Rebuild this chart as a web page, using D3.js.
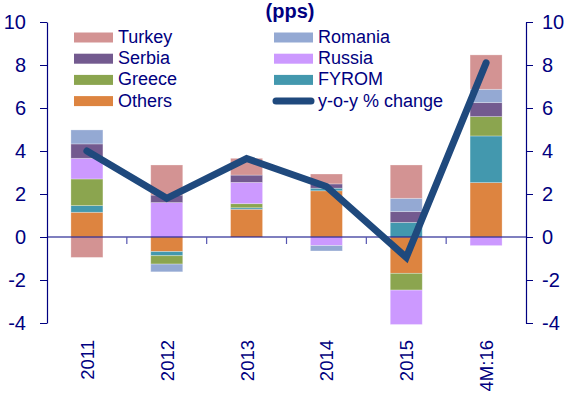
<!DOCTYPE html>
<html>
<head>
<meta charset="utf-8">
<script src="https://cdn.jsdelivr.net/npm/d3@7"></script>
<style>
  body { margin: 0; background: #fff; }
  svg { display: block; font-family: "Liberation Sans", Arial, sans-serif; }
</style>
</head>
<body>
<svg id="chart"></svg>
<script>
// categories and series values (pps)
const categories = ["2011", "2012", "2013", "2014", "2015", "4M:16"];
const turkey  = [-0.95, 1.40, 0.78, 0.46, 1.55, 1.60];
const romania = [0.65, -0.36, 0.00, -0.25, 0.62, 0.62];
const serbia  = [0.67, 0.35, 0.34, 0.20, 0.50, 0.65];
const russia  = [0.96, 1.60, 0.99, -0.40, -1.60, -0.40];
const greece  = [1.24, -0.39, 0.19, 0.00, -0.78, 0.90];
const fyrom   = [0.31, -0.19, 0.07, 0.12, 0.68, 2.17];
const others  = [1.15, -0.68, 1.29, 2.15, -1.69, 2.53];
const yoy     = [4.0, 1.8, 3.65, 2.35, -0.95, 8.1];
const yTicks  = [-4, -2, 0, 2, 4, 6, 8, 10];

const navy = "#000080";
const series = [
    {key: "Others",  values: others,  color: "#dd8440"},
    {key: "FYROM",   values: fyrom,   color: "#4398ae"},
    {key: "Greece",  values: greece,  color: "#8ba54f"},
    {key: "Russia",  values: russia,  color: "#cc99ff"},
    {key: "Serbia",  values: serbia,  color: "#735a8f"},
    {key: "Romania", values: romania, color: "#94a9d3"},
    {key: "Turkey",  values: turkey,  color: "#d39393"}
];
const colorOf = k => series.find(s => s.key === k).color;

// build table for d3.stack
const table = categories.map((c, i) => {
    let row = {cat: c};
    series.forEach(s => row[s.key] = s.values[i]);
    return row;
});

const width = 564, height = 400;
const svg = d3.select("#chart").attr("width", width).attr("height", height);

let x = d3.scaleBand().domain(categories).range([47, 526]).padding(0);
let y = d3.scaleLinear().domain([-4, 10]).range([323, 22]);
const barW = 32;

// stacked bars
const stacked = d3.stack()
    .keys(series.map(s => s.key))
    .offset(d3.stackOffsetDiverging)(table);

svg.append("g").selectAll("g")
    .data(stacked)
    .enter().append("g")
    .attr("fill", d => colorOf(d.key))
    .selectAll("rect")
    .data(d => d)
    .enter().append("rect")
    .attr("x", d => x(d.data.cat) + x.bandwidth() / 2 - barW / 2)
    .attr("y", d => y(d[1]))
    .attr("width", barW)
    .attr("height", d => Math.max(0, y(d[0]) - y(d[1])))
    .attr("stroke", "#fff")
    .attr("stroke-opacity", 0.35)
    .attr("stroke-width", 0.8);

// left and right axes
const tickFmt = d => String(d);  // plain hyphen minus, as in the original
const leftAxis = svg.append("g")
    .attr("transform", "translate(47,0)")
    .call(d3.axisLeft(y).tickValues(yTicks).tickFormat(tickFmt)
        .tickSize(7).tickSizeOuter(0).tickPadding(14));
const rightAxis = svg.append("g")
    .attr("transform", "translate(526,0)")
    .call(d3.axisRight(y).tickValues(yTicks).tickFormat(tickFmt)
        .tickSize(7).tickSizeOuter(0).tickPadding(9));
[leftAxis, rightAxis].forEach(a => {
    a.select(".domain").attr("stroke", navy).attr("stroke-width", 1.2);
    a.selectAll(".tick line").attr("stroke", navy);
    a.selectAll("text").attr("fill", navy)
        .style("font-family", '"Liberation Sans Narrow", "Liberation Sans", Arial, sans-serif')
        .style("font-size", "20px");
});

// zero line with category boundary ticks
svg.append("line")
    .attr("x1", 47).attr("x2", 526)
    .attr("y1", y(0)).attr("y2", y(0))
    .attr("stroke", navy).attr("stroke-width", 1.2);
svg.append("g").selectAll("line")
    .data(categories.slice(1))
    .enter().append("line")
    .attr("x1", d => x(d)).attr("x2", d => x(d))
    .attr("y1", y(0)).attr("y2", y(0) + 7)
    .attr("stroke", "#5555b0").attr("stroke-width", 1.2);

// category labels, rotated
svg.append("g").selectAll("text")
    .data(categories)
    .enter().append("text")
    .attr("transform", d => `translate(${x(d) + x.bandwidth() / 2 + 7},340) rotate(-90)`)
    .attr("text-anchor", "end")
    .attr("fill", navy)
    .style("font-size", "18.5px")
    .text(d => d);

// y-o-y line
const line = d3.line()
    .x((d, i) => x(categories[i]) + x.bandwidth() / 2)
    .y(d => y(d));
svg.append("path")
    .datum(yoy)
    .attr("d", line)
    .attr("fill", "none")
    .attr("stroke", "#1f497d")
    .attr("stroke-width", 7)
    .attr("stroke-linejoin", "miter")
    .attr("stroke-linecap", "round");

// title
svg.append("text")
    .attr("x", 290).attr("y", 18)
    .attr("text-anchor", "middle")
    .attr("fill", navy)
    .style("font-size", "20px")
    .style("font-weight", "bold")
    .text("(pps)");

// legend
const legendItems = [
    {key: "Turkey", col: 0, row: 0}, {key: "Serbia", col: 0, row: 1},
    {key: "Greece", col: 0, row: 2}, {key: "Others", col: 0, row: 3},
    {key: "Romania", col: 1, row: 0}, {key: "Russia", col: 1, row: 1},
    {key: "FYROM", col: 1, row: 2}, {key: "y-o-y % change", col: 1, row: 3, line: true}
];
const legend = svg.append("g");
legendItems.forEach(item => {
    let lx = item.col === 0 ? 74 : 274;
    let ly = 37.5 + item.row * 21.2;
    if (item.line) {
        legend.append("line")
            .attr("x1", lx + 2).attr("x2", lx + 37)
            .attr("y1", ly).attr("y2", ly)
            .attr("stroke", "#1f497d").attr("stroke-width", 7)
            .attr("stroke-linecap", "round");
    } else {
        legend.append("rect")
            .attr("x", lx).attr("y", ly - 5)
            .attr("width", 39).attr("height", 10)
            .attr("fill", colorOf(item.key));
    }
    legend.append("text")
        .attr("x", lx + 44).attr("y", ly + 5.5)
        .attr("fill", navy)
        .style("font-size", "18px")
        .text(item.key);
});
</script>
</body>
</html>
